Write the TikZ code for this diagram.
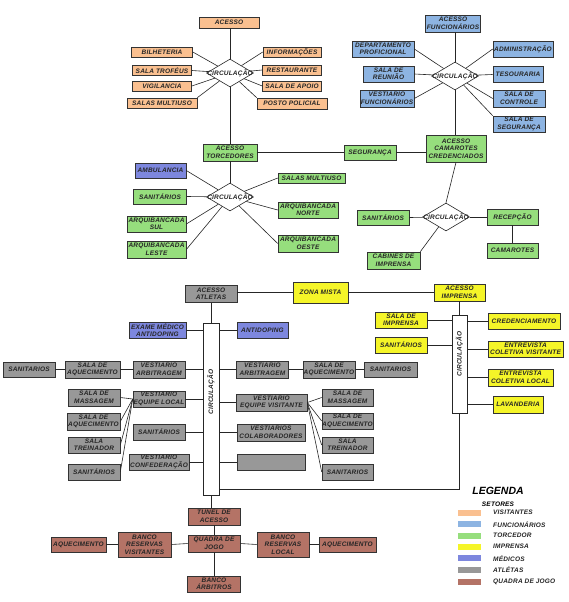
\documentclass[tikz,border=0pt]{standalone}
\usepackage{fontspec}
\setmainfont{Liberation Sans}
\newfontfamily\boxfont{Liberation Sans}[LetterSpace=3]
\usetikzlibrary{shapes.geometric,shadows,calc}
\definecolor{cvis}{RGB}{250,192,144}
\definecolor{cfun}{RGB}{141,180,226}
\definecolor{ctor}{RGB}{150,222,125}
\definecolor{cimp}{RGB}{245,245,40}
\definecolor{cmed}{RGB}{125,135,222}
\definecolor{catl}{RGB}{152,152,152}
\definecolor{cqua}{RGB}{180,115,102}
\tikzset{
  bfnt/.style={font=\boxfont\fontsize{6.5}{7.5}\selectfont\bfseries\itshape},
  box/.style={draw=black!80, line width=0.6pt, fill=#1, bfnt,
    align=center, inner sep=0pt, text=black!85,
    drop shadow={shadow xshift=0.8pt,shadow yshift=-0.8pt,fill=black!70,opacity=1}},
  wh/.style 2 args={minimum width=#1pt, minimum height=#2pt},
  dia/.style={diamond, draw=black!85, fill=white, line width=0.6pt, inner sep=0pt,
    minimum width=47pt, minimum height=28pt, aspect=1.68},
  dtxt/.style={bfnt, inner sep=0pt, text=black!85},
  cbar/.style={draw=black!85, fill=white, line width=0.6pt, inner sep=0pt},
  vtxt/.style={bfnt, inner sep=0pt, rotate=90, text=black!85},
  ln/.style={draw=black!85, line width=0.6pt},
  sw/.style={fill=#1, minimum width=23pt, minimum height=6pt, inner sep=0pt},
  ltxt/.style={bfnt, inner sep=0pt, anchor=west, text=black!85},
}
\begin{document}
\begin{tikzpicture}[x=1pt,y=-1pt]
\fill[white] (0,0) rectangle (569,602);
\useasboundingbox (0,0) rectangle (569,602);

% ---------- Visitantes ----------
\node[box=cvis, wh={60}{11}] (acesso) at (229,22.5) {ACESSO};
\node[dia, label={[dtxt,name=d1t]center:CIRCULAÇÃO}] (d1) at (230,73) {};
\node[box=cvis, wh={61}{10}] (bil) at (162,52) {BILHETERIA};
\node[box=cvis, wh={59}{10}] (tro) at (162,70.5) {SALA TROFÉUS};
\node[box=cvis, wh={59}{10}] (vig) at (162,86) {VIGILANCIA};
\node[box=cvis, wh={70}{10}] (smu) at (162,103) {SALAS MULTIUSO};
\node[box=cvis, wh={58}{10}] (inf) at (292,52) {INFORMAÇÕES};
\node[box=cvis, wh={59}{10}] (res) at (292,70) {RESTAURANTE};
\node[box=cvis, wh={59}{10}] (apo) at (292,86) {SALA DE APOIO};
\node[box=cvis, wh={70}{11}] (pos) at (292,103.5) {POSTO POLICIAL};
\draw[ln] (d1.north) -- (d1.north |- acesso.south);
\draw[ln] (d1) -- (bil.east);
\draw[ln] (d1) -- (tro.east);
\draw[ln] (d1) -- (vig.east);
\draw[ln] (d1) -- (smu.north east);
\draw[ln] (d1) -- (inf.west);
\draw[ln] (d1) -- (res.west);
\draw[ln] (d1) -- (apo.west);
\draw[ln] (d1) -- (pos.north west);

% ---------- Funcionarios ----------
\node[box=cfun, wh={55}{17}] (afun) at (453,23.5) {ACESSO\\FUNCIONÁRIOS};
\node[dia, label={[dtxt,name=d2t]center:CIRCULAÇÃO}] (d2) at (455,76) {};
\node[box=cfun, wh={62}{16}] (dep) at (383,49) {DEPARTAMENTO\\PROFICIONAL};
\node[box=cfun, wh={51}{16}] (reu) at (388.5,74) {SALA DE\\REUNIÃO};
\node[box=cfun, wh={54}{17}] (vfun) at (387,98.5) {VESTIARIO\\FUNCIONÁRIOS};
\node[box=cfun, wh={60}{16}] (adm) at (523,49) {ADMINISTRAÇÃO};
\node[box=cfun, wh={50}{16}] (tes) at (518,74.5) {TESOURARIA};
\node[box=cfun, wh={52}{17}] (con) at (519,98.5) {SALA DE\\CONTROLE};
\node[box=cfun, wh={52}{16}] (segr) at (519,124) {SALA DE\\SEGURANÇA};
\draw[ln] (d2.north) -- (d2.north |- afun.south);
\draw[ln] (d2) -- (dep.east);
\draw[ln] (d2) -- (reu.east);
\draw[ln] (d2) -- (vfun.east);
\draw[ln] (d2) -- (adm.west);
\draw[ln] (d2) -- (tes.west);
\draw[ln] (d2) -- (con.west);
\draw[ln] (d2) -- (segr.north west);

% ---------- Torcedor ----------
\node[box=ctor, wh={54}{17}] (ator) at (230,152.5) {ACESSO\\TORCEDORES};
\node[box=cmed, wh={51}{15}] (amb) at (160.5,170.5) {AMBULANCIA};
\node[dia, label={[dtxt,name=d3t]center:CIRCULAÇÃO}] (d3) at (230,197) {};
\node[box=ctor, wh={53}{15}] (san1) at (160,196.5) {SANITÁRIOS};
\node[box=ctor, wh={59}{16}] (asul) at (156.5,224) {ARQUIBANCADA\\SUL};
\node[box=ctor, wh={59}{17}] (ales) at (156.5,249.5) {ARQUIBANCADA\\LESTE};
\node[box=ctor, wh={67}{10}] (smu2) at (311.5,178) {SALAS MULTIUSO};
\node[box=ctor, wh={60}{16}] (anor) at (308,210) {ARQUIBANCADA\\NORTE};
\node[box=ctor, wh={60}{17}] (aoes) at (308,243.5) {ARQUIBANCADA\\OESTE};
\draw[ln] (d1.south) -- (d1.south |- ator.north);
\draw[ln] (d3.north) -- (d3.north |- ator.south);
\draw[ln] (d3) -- (amb.east);
\draw[ln] (d3) -- (san1.east);
\draw[ln] (d3) -- (asul.east);
\draw[ln] (d3) -- (ales.east);
\draw[ln] (d3) -- (smu2.west);
\draw[ln] (d3) -- (anor.west);
\draw[ln] (d3) -- (aoes.west);

\node[box=ctor, wh={52}{15}] (segu) at (370,152.5) {SEGURANÇA};
\node[box=ctor, wh={60}{27}] (acam) at (456,148.5) {ACESSO\\CAMAROTES\\CREDENCIADOS};
\node[dia, label={[dtxt,name=d4t]center:CIRCULAÇÃO}] (d4) at (446,217) {};
\node[box=ctor, wh={52}{15}] (san2) at (383,217.5) {SANITÁRIOS};
\node[box=ctor, wh={51}{16}] (rec) at (512.5,217) {RECEPÇÃO};
\node[box=ctor, wh={51}{15}] (cam) at (512.5,250.5) {CAMAROTES};
\node[box=ctor, wh={53}{17}] (cab) at (393.5,260.5) {CABINES DE\\IMPRENSA};
\draw[ln] (ator.east) -- (segu.west);
\draw[ln] (segu.east) -- (segu.east -| acam.west);
\draw[ln] (d2.south) -- (d2.south |- acam.north);
\draw[ln] (acam.south) -- (d4.north);
\draw[ln] (d4) -- (san2.east);
\draw[ln] (d4) -- (rec.west);
\draw[ln] (rec.south) -- (cam.north);
\draw[ln] (d4) -- (cab.north east);

% ---------- Atletas ----------
\node[box=catl, wh={52}{17}] (aatl) at (211,294) {ACESSO\\ATLETAS};
\node[box=cimp, wh={55}{21}] (zmis) at (320.5,292.5) {ZONA MISTA};
\node[box=cimp, wh={51}{17}] (aimp) at (459.5,292.5) {ACESSO\\IMPRENSA};
\draw[ln] (zmis.west -| aatl.east) -- (zmis.west);
\draw[ln] (zmis.east) -- (aimp.west);

\node[cbar, wh={16}{172}] (abar) at (211,409) {};
\node[vtxt] (abart) at ([yshift=17pt]abar.center) {CIRCULAÇÃO};
\node[box=cmed, wh={57}{16}] (exa) at (157.5,330) {EXAME MÉDICO\\ANTIDOPING};
\node[box=cmed, wh={51}{16}] (ant) at (262.5,330) {ANTIDOPING};
\node[box=catl, wh={52}{15}] (lsan) at (29,369.5) {SANITARIOS};
\node[box=catl, wh={55}{17}] (laq) at (92.5,369.5) {SALA DE\\AQUECIMENTO};
\node[box=catl, wh={52}{17}] (lva) at (159,369.5) {VESTIARIO\\ARBITRAGEM};
\node[box=catl, wh={52}{17}] (rva) at (262.5,369.5) {VESTIARIO\\ARBITRAGEM};
\node[box=catl, wh={52}{17}] (raq) at (329,369.5) {SALA DE\\AQUECIMENTO};
\node[box=catl, wh={53}{15}] (rsan) at (390.5,369.5) {SANITARIOS};

\node[box=catl, wh={52}{16}] (vel) at (159,399) {VESTIARIO\\EQUIPE LOCAL};
\node[box=catl, wh={52}{17}] (lmas) at (94,397.5) {SALA DE\\MASSAGEM};
\node[box=catl, wh={53}{17}] (laq2) at (93.5,421.5) {SALA DE\\AQUECIMENTO};
\node[box=catl, wh={52}{16}] (ltre) at (94,445) {SALA\\TREINADOR};
\node[box=catl, wh={52}{16}] (lsan2) at (94,472) {SANITÁRIOS};
\node[box=catl, wh={52}{16}] (msan) at (159,432) {SANITÁRIOS};
\node[box=catl, wh={60}{16}] (vcon) at (159,462) {VESTIARIO\\CONFEDERAÇÃO};

\node[box=catl, wh={71}{17}] (vev) at (271.5,402.5) {VESTIARIO\\EQUIPE VISITANTE};
\node[box=catl, wh={68}{17}] (vcol) at (271,432.5) {VESTIARIOS\\COLABORADORES};
\node[box=catl, wh={68}{16}] (vemp) at (271,462) {};
\node[box=catl, wh={51}{17}] (rmas) at (347.5,397.5) {SALA DE\\MASSAGEM};
\node[box=catl, wh={51}{16}] (raq2) at (347.5,421) {SALA DE\\AQUECIMENTO};
\node[box=catl, wh={51}{16}] (rtre) at (347.5,445) {SALA\\TREINADOR};
\node[box=catl, wh={51}{16}] (rsan2) at (347.5,472) {SANITARIOS};

\draw[ln] (aatl.south) -- (aatl.south |- abar.north);
\foreach \n in {exa,lva,vel,msan,vcon}
  \draw[ln] (\n.east) -- (\n.east -| abar.west);
\foreach \n in {ant,rva,vev,vcol,vemp}
  \draw[ln] (\n.west) -- (\n.west -| abar.east);
\draw[ln] (lsan.east) -- (laq.west);
\draw[ln] (laq.east) -- (lva.west);
\draw[ln] (rva.east) -- (raq.west);
\draw[ln] (raq.east) -- (rsan.west);
\foreach \n in {lmas,laq2,ltre,lsan2}
  \draw[ln] (vel.west) -- (\n.east);
\foreach \n in {rmas,raq2,rtre,rsan2}
  \draw[ln] (vev.east) -- (\n.west);

% ---------- Imprensa ----------
\node[cbar, wh={15}{98}] (ibar) at (459.5,364) {};
\node[vtxt] (ibart) at ([yshift=10pt]ibar.center) {CIRCULAÇÃO};
\node[box=cimp, wh={52}{16}] (simp) at (401,320) {SALA DE\\IMPRENSA};
\node[box=cimp, wh={52}{16}] (isan) at (401,345) {SANITÁRIOS};
\node[box=cimp, wh={72}{16}] (cred) at (524,321) {CREDENCIAMENTO};
\node[box=cimp, wh={75}{16}] (ecv) at (525.5,349) {ENTREVISTA\\COLETIVA VISITANTE};
\node[box=cimp, wh={65}{17}] (ecl) at (520.5,377.5) {ENTREVISTA\\COLETIVA LOCAL};
\node[box=cimp, wh={50}{17}] (lav) at (518,404.5) {LAVANDERIA};
\draw[ln] (aimp.south) -- (aimp.south |- ibar.north);
\foreach \n in {simp,isan}
  \draw[ln] (\n.east) -- (\n.east -| ibar.west);
\foreach \n in {cred,ecv,ecl,lav}
  \draw[ln] (\n.west) -- (\n.west -| ibar.east);
\coordinate (corner) at (459.5,489);
\draw[ln] (ibar.south) -- (corner) -- (corner -| abar.east);

% ---------- Quadra ----------
\node[box=cqua, wh={52}{17}] (tun) at (214,516.5) {TUNEL DE\\ACESSO};
\node[box=cqua, wh={52}{17}] (qua) at (214,543.5) {QUADRA DE\\JOGO};
\node[box=cqua, wh={53}{25}] (brv) at (144.5,544.5) {BANCO\\RESERVAS\\VISITANTES};
\node[box=cqua, wh={55}{15}] (aq1) at (78.5,544.5) {AQUECIMENTO};
\node[box=cqua, wh={52}{25}] (brl) at (283,544.5) {BANCO\\RESERVAS\\LOCAL};
\node[box=cqua, wh={57}{15}] (aq2) at (347.5,544.5) {AQUECIMENTO};
\node[box=cqua, wh={53}{16}] (barb) at (214,584) {BANCO\\ÁRBITROS};
\draw[ln] (abar.south) -- (abar.south |- tun.north);
\draw[ln] (tun.south) -- (qua.north);
\draw[ln] (qua.south) -- (barb.north);
\draw[ln] (aq1.east) -- (brv.west);
\draw[ln] (brv.east) -- (qua.west);
\draw[ln] (qua.east) -- (brl.west);
\draw[ln] (brl.east) -- (aq2.west);

% ---------- Legenda ----------
\node[font=\fontsize{10.5}{12}\selectfont\bfseries\itshape, inner sep=0pt] (leg) at (498,491) {LEGENDA};
\node[bfnt, inner sep=0pt] (set) at (498,504) {SETORES};
\node[sw=cvis] (s1) at (469.5,512.7) {};
\node[sw=cfun] (s2) at (469.5,524.3) {};
\node[sw=ctor] (s3) at (469.5,535.7) {};
\node[sw=cimp] (s4) at (469.5,546.7) {};
\node[sw=cmed] (s5) at (469.5,558.3) {};
\node[sw=catl] (s6) at (469.5,570) {};
\node[sw=cqua] (s7) at (469.5,581.7) {};
\node[ltxt] (l1) at (493,512.7) {VISITANTES};
\node[ltxt] (l2) at (493,524.3) {FUNCIONÁRIOS};
\node[ltxt] (l3) at (493,535.7) {TORCEDOR};
\node[ltxt] (l4) at (493,546.7) {IMPRENSA};
\node[ltxt] (l5) at (493,558.3) {MÉDICOS};
\node[ltxt] (l6) at (493,570) {ATLÉTAS};
\node[ltxt] (l7) at (493,581.7) {QUADRA DE JOGO};
\end{tikzpicture}
\end{document}
